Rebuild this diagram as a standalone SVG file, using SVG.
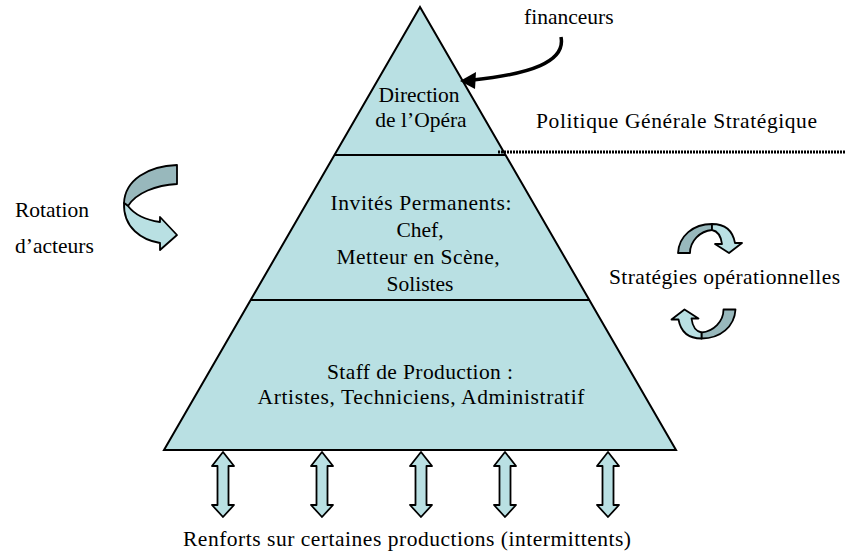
<svg xmlns="http://www.w3.org/2000/svg" width="845" height="558" viewBox="0 0 845 558">
<defs>
<style>
text{font-family:"Liberation Serif","Times New Roman",serif;font-size:21.5px;fill:#000}
.c{text-anchor:middle}
.tri{fill:#B9E0E3;stroke:#000;stroke-width:2;stroke-linejoin:miter}
.div{stroke:#000;stroke-width:2}
.light{fill:#B9E0E3;stroke:#000;stroke-width:1.8;stroke-linejoin:round}
.dark{fill:#98B8BC;stroke:#000;stroke-width:1.8;stroke-linejoin:round}
</style>
<g id="circArrow">
<path class="dark" d="M678,253 C679,236 693,224 712,224 L712,230 C700,231 690,241 690,253 Z"/>
<path class="light" d="M712,224 C726,224 733,232 735,243 L742,243 L729,253 L715,244 L722,244 C721,236 717,231 712,230 Z"/>
</g>
</defs>
<rect width="845" height="558" fill="#fff"/>
<g id="pyramid">
<polygon class="tri" points="420,7 164,450 676,450"/>
<line class="div" x1="334.5" y1="155" x2="505.5" y2="155"/>
<line class="div" x1="250" y1="300" x2="590" y2="300"/>
</g>
<g id="direction">
<text class="c" x="419" y="102">Direction</text>
<text class="c" x="421" y="127">de l’Opéra</text>
</g>
<g id="invites">
<text class="c" x="421" y="210" textLength="181" lengthAdjust="spacing">Invités Permanents:</text>
<text class="c" x="420" y="237">Chef,</text>
<text class="c" x="418" y="264" textLength="163" lengthAdjust="spacing">Metteur en Scène,</text>
<text class="c" x="420" y="291">Solistes</text>
</g>
<g id="staff">
<text class="c" x="420" y="379" textLength="186" lengthAdjust="spacing">Staff de Production :</text>
<text class="c" x="421" y="404" textLength="327" lengthAdjust="spacing">Artistes, Techniciens, Administratif</text>
</g>
<g id="financeurs">
<text x="524" y="24">financeurs</text>
</g>
<g id="politique">
<text x="536" y="128" textLength="281" lengthAdjust="spacing">Politique Générale Stratégique</text>
</g>
<g id="rotation">
<text x="15" y="217">Rotation</text>
<text x="15" y="253">d’acteurs</text>
<path class="dark" d="M177,165 C148,166 125,180 124,203 L128,206 C136,193 156,185 177,184 Z"/>
<path class="light" d="M124,203 C123,228 142,240 160,243 L160,250 L177,235 L160,217 L160,222 C146,220 134,214 128,206 Z"/>
</g>
<g id="strategies">
<text x="609" y="284" textLength="231" lengthAdjust="spacing">Stratégies opérationnelles</text>
<use href="#circArrow"/>
<use href="#circArrow" transform="rotate(180 706.75 281.25)"/>
</g>
<g id="renforts">
<text x="183" y="546" textLength="448" lengthAdjust="spacing">Renforts sur certaines productions (intermittents)</text>
</g>
<g id="connectors">
<path d="M561,37 C566,62 530,74 473,80" fill="none" stroke="#000" stroke-width="3.5"/>
<polygon points="460,81 476,72 475,89" fill="#000"/>
<line x1="498" y1="152" x2="845" y2="152" stroke="#000" stroke-width="3" stroke-dasharray="2 1"/>
<polygon class="light" points="223,452 234,466 228.5,466 228.5,505 234,505 223,517 212,505 217.5,505 217.5,466 212,466"/>
<polygon class="light" points="322,452 333,466 327.5,466 327.5,505 333,505 322,517 311,505 316.5,505 316.5,466 311,466"/>
<polygon class="light" points="421,452 432,466 426.5,466 426.5,505 432,505 421,517 410,505 415.5,505 415.5,466 410,466"/>
<polygon class="light" points="505,452 516,466 510.5,466 510.5,505 516,505 505,517 494,505 499.5,505 499.5,466 494,466"/>
<polygon class="light" points="608,452 619,466 613.5,466 613.5,505 619,505 608,517 597,505 602.5,505 602.5,466 597,466"/>
</g>
</svg>
